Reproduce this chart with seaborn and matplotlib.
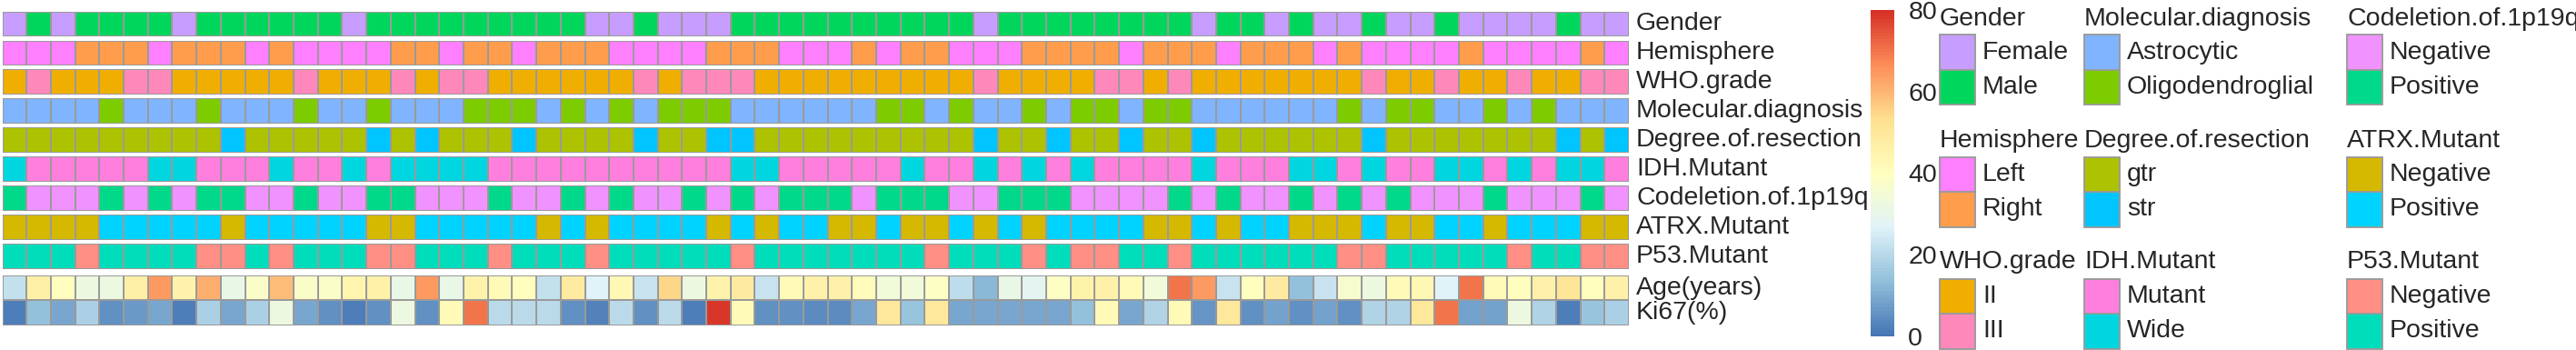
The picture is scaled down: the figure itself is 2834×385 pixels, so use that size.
import numpy as np
import pandas as pd
import seaborn as sns
import matplotlib
matplotlib.use("Agg")
import matplotlib.pyplot as plt
from matplotlib.colors import ListedColormap, LinearSegmentedColormap
from matplotlib.patches import Rectangle

# ---------------- data ----------------
gender = list("FMFMMMMFMMMMMMFMM" "MMMMMMMFFMFFFMMM" "MMMMMMMFMMMMMMMMF" "MMFMFFMFFMFFFFMFF")
hemisphere = list("LLLRRRLRRRLRLLLLR" "RLRRLRRRLLLLRRRL" "LLRLRRLLLRRRRLRRR" "LRRRLRLLLLRLLLLRL")
who_grade = list("23222332222232223" "2332222223233322" "22222223222233232" "22222232232232233")
molecular = list("AAAAOAAAOAAAOAAOA" "AAOOOAOAOAOOOAAA" "AAAOOAOAAOAOOAOOA" "AAAAAOAOOAAOAOAAA")
resection = list("gggggggggsgggggsg" "sgggsggggsggssgg" "gggggggsggsggsggs" "ggggggsgggggggsgs")
idh = list("WMMMMMWWMMMWMMWMW" "WWWMMMMMMMMMMWWM" "MMMMWMMWMWMWMMMMW" "MMMWWMWMMWWMWMWWM")
codel = list("PNNNPNPNPPNNPNNPP" "NNNPNNPNPNNPNPNP" "PPNPPPNNPPPNNNNPN" "PNNPNPNPNNNPNNNPN")
atrx = list("NNNNPPPPPNPPPPPNN" "PPPPPNPNPPPPNPNP" "PNNPNNPNPNPPPPNNP" "NPPNNNPNNPPNPPPNN")
p53 = list("PPPNPPPPNNPNPPPNN" "PPPNPPPNPPPPPNPP" "PPPPPNPPPNPNNPPNP" "PPPPPNNPPPPPNPPNN")

age = [22, 47, 40, 32, 32, 47, 64, 45, 61, 31, 38, 59, 38, 38, 44, 46, 31,
       64, 31, 45, 42, 40, 22, 48, 27, 43, 23, 55, 32, 45, 48, 23, 42,
       46, 46, 41, 34, 34, 39, 21, 12, 31, 28, 39, 45, 46, 42, 34, 70, 64,
       23, 40, 48, 14, 23, 36, 32, 42, 43, 27, 70, 42, 40, 46, 51, 40, 46]
ki67 = [2, 14, 9, 18, 5, 7, 9, 2, 18, 9, 18, 32, 9, 5, 2, 5, 32,
        5, 42, 70, 20, 20, 20, 5, 3, 20, 5, 20, 2, 79, 42, 5, 5,
        4, 4, 9, 50, 15, 50, 9, 9, 9, 9, 9, 14, 42, 9, 19, 42, 6,
        50, 5, 8, 5, 8, 5, 19, 19, 50, 70, 8, 8, 32, 19, 2, 15, 18]

row_names = ["Gender", "Hemisphere", "WHO.grade", "Molecular.diagnosis",
             "Degree.of.resection", "IDH.Mutant", "Codeletion.of.1p19q",
             "ATRX.Mutant", "P53.Mutant"]
row_data = [gender, hemisphere, who_grade, molecular, resection, idh, codel, atrx, p53]
row_codes = [["F", "M"], ["L", "R"], ["2", "3"], ["A", "O"], ["g", "s"],
             ["M", "W"], ["N", "P"], ["N", "P"], ["N", "P"]]
level_labels = [["Female", "Male"], ["Left", "Right"], ["II", "III"],
                ["Astrocytic", "Oligodendroglial"], ["gtr", "str"],
                ["Mutant", "Wide"], ["Negative", "Positive"],
                ["Negative", "Positive"], ["Negative", "Positive"]]
level_colors = [["#C79DFF", "#00D65C"], ["#FF80FF", "#FF9D4D"], ["#F0AE00", "#FF88BA"],
                ["#80B4FF", "#7DCC00"], ["#ADC200", "#00C5FF"], ["#FF7FDE", "#00D6E0"],
                ["#F092FF", "#00D98A"], ["#D5B800", "#00D3FF"], ["#FF8F84", "#00DDBB"]]
cont_names = ["Age(years)", "Ki67(%)"]
cbar_ticks = [0, 20, 40, 60, 80]

# ---------------- styling ----------------
sns.set_style("white")
plt.rcParams["font.family"] = ["Liberation Sans", "DejaVu Sans"]

W, H = 2834, 385
fig = plt.figure(figsize=(W / 100, H / 100), dpi=100)

def fx(x):
    return x / W

def fy(y):
    return 1 - y / H

x0, x1 = 2.5, 1792.0
top0, pitch, rh = 12.6, 31.95, 27.4
edge = "#9A9A9A"
lw = 1.35
fs = 20.5

for i, (name, vals, codes, cols) in enumerate(zip(row_names, row_data, row_codes, level_colors)):
    t = top0 + i * pitch
    ax = fig.add_axes([fx(x0), fy(t + rh), fx(x1 - x0), rh / H])
    df = pd.DataFrame([[codes.index(v) for v in vals]], index=[name])
    sns.heatmap(df, ax=ax, cmap=ListedColormap(cols), vmin=0, vmax=1, cbar=False,
                linewidths=lw, linecolor=edge, xticklabels=False, yticklabels=False)
    fig.text(fx(1800), fy(t + rh / 2), name, fontsize=fs, va="center", ha="left")

# continuous block
ct = 303.2
ch = 54.4
cmap = LinearSegmentedColormap.from_list(
    "rdylbu7", ["#4575B4", "#91BFDB", "#E0F3F8", "#FFFFBF", "#FEE090", "#FC8D59", "#D73027"], N=100)
cax = fig.add_axes([fx(2058), fy(370.3), fx(26), 359.6 / H])
axc = fig.add_axes([fx(x0), fy(ct + ch), fx(x1 - x0), ch / H])
dfc = pd.DataFrame([age, ki67], index=cont_names)
sns.heatmap(dfc, ax=axc, cmap=cmap, vmin=0, vmax=80, cbar=True, cbar_ax=cax,
            linewidths=lw, linecolor=edge, xticklabels=False, yticklabels=False,
            cbar_kws={"ticks": cbar_ticks})
for j, nm in enumerate(cont_names):
    fig.text(fx(1800), fy(ct + ch / 4 + j * ch / 2), nm, fontsize=fs, va="center", ha="left")
cax.tick_params(length=0, labelsize=fs, pad=11)
for s in cax.spines.values():
    s.set_visible(False)
cb = axc.collections[0].colorbar
if cb is not None:
    cb.outline.set_visible(False)

# ---------------- legends ----------------
leg_x = [2134, 2293, 2582]
title_y = [21, 155, 288]
sw_top = [38.3, 172.7, 306.7]
sw_w, sw_h = 39, 38.5
for k in range(9):
    col, r = k // 3, k % 3
    lx = leg_x[col]
    fig.text(fx(lx), fy(title_y[r]), row_names[k], fontsize=fs, va="center", ha="left")
    for m in range(2):
        yt = sw_top[r] + m * sw_h
        fig.add_artist(Rectangle((fx(lx), fy(yt + sw_h)), fx(sw_w), sw_h / H,
                                 transform=fig.transFigure, facecolor=level_colors[k][m],
                                 edgecolor=edge, linewidth=lw))
        fig.text(fx(lx + sw_w + 8), fy(yt + sw_h / 2), level_labels[k][m],
                 fontsize=fs, va="center", ha="left")

fig.savefig("out.png", dpi=100)
